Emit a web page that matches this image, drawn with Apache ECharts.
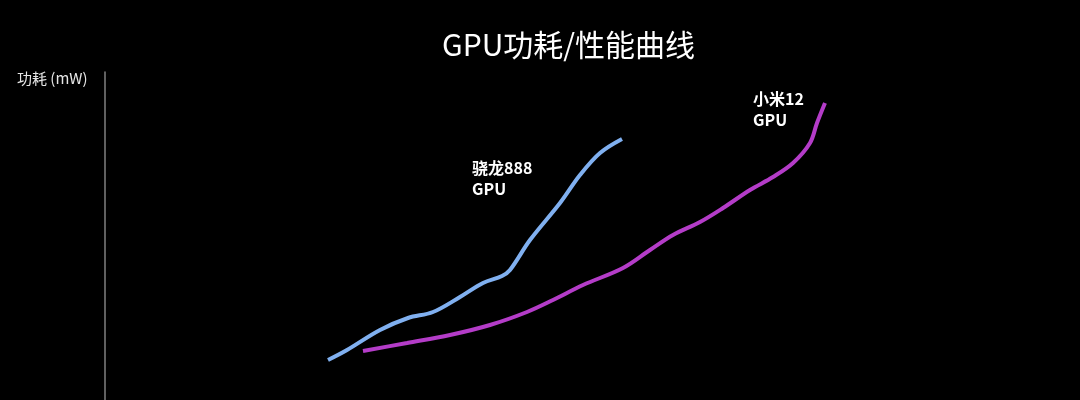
<!DOCTYPE html>
<html>
  <head>
    <meta charset="utf-8" />
    <title>GPU功耗/性能曲线</title>
    <script src="https://cdn.jsdelivr.net/npm/echarts@6/dist/echarts.min.js"></script>
    <style>
      html, body { margin: 0; padding: 0; background: #000; }
    </style>
  </head>
  <body>
    <div id="chart" style="width: 1080px; height: 400px;"></div>
    <script type="text/javascript">
      // values, arbitrary units (performance, power)
      var snapdragon_perf  = [223, 242, 275, 303, 328, 355, 378, 397, 405, 425, 455, 475, 495, 517];
      var snapdragon_power = [ 40,  50,  70,  82,  88, 103, 117, 124, 130, 160, 197, 225, 247, 261];
      var xiaomi_perf  = [258, 302, 345, 385, 422, 448, 478, 518, 545, 568, 595, 618, 645, 668, 688, 705, 712, 720];
      var xiaomi_power = [ 49,  57,  65,  75,  88, 100, 115, 132, 150, 165, 178, 192, 210, 223, 237, 257, 277, 297];
      var series_names = ['骁龙888\nGPU', '小米12\nGPU'];

      function pairs(xs, ys) {
        return xs.map(function (x, i) { return [x, ys[i]]; });
      }

      var font = '"Noto Sans CJK SC", "Noto Sans", sans-serif';
      var chart = echarts.init(document.getElementById('chart'));
      chart.setOption({
        backgroundColor: '#000',
        animation: false,
        title: {
          text: 'GPU功耗/性能曲线',
          left: 437, top: 25,
          textStyle: { color: '#fff', fontSize: 30, fontWeight: 'normal', fontFamily: font }
        },
        grid: { left: 105, right: 0, top: 72, bottom: 0 },
        xAxis: { type: 'value', min: 0, max: 975, show: false },
        yAxis: {
          type: 'value', min: 0, max: 328,
          axisLine: { show: true, lineStyle: { color: '#808080', width: 1.5 } },
          axisTick: { show: false }, axisLabel: { show: false }, splitLine: { show: false }
        },
        graphic: [
          { type: 'text', left: 17, top: 71,
            style: { text: '功耗 (mW)', fill: '#e6e6e6', font: '15px ' + font } },
          { type: 'text', left: 472, top: 157,
            style: { text: series_names[0], fill: '#fff', font: 'bold 16px ' + font, lineHeight: 21 } },
          { type: 'text', left: 753, top: 88,
            style: { text: series_names[1], fill: '#fff', font: 'bold 16px ' + font, lineHeight: 21 } }
        ],
        series: [
          { name: series_names[0], type: 'line', smooth: 0.35, symbol: 'none',
            lineStyle: { color: '#80b0f0', width: 4 },
            data: pairs(snapdragon_perf, snapdragon_power) },
          { name: series_names[1], type: 'line', smooth: 0.35, symbol: 'none',
            lineStyle: { color: '#b43cc8', width: 4 },
            data: pairs(xiaomi_perf, xiaomi_power) }
        ]
      });
    </script>
  </body>
</html>
